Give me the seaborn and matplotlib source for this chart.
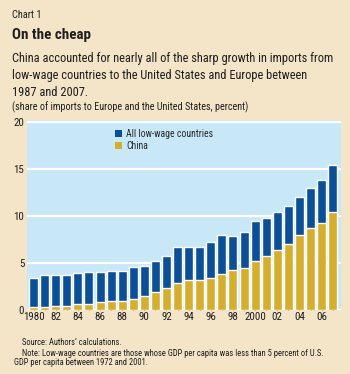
import matplotlib
matplotlib.use("Agg")
import matplotlib.pyplot as plt
import matplotlib.font_manager as fm
import seaborn as sns
import pandas as pd
from matplotlib.patches import Patch

years = list(range(1980, 2008))
all_low_wage = [3.45, 3.7, 3.7, 3.7, 3.9, 4.0, 4.0, 4.1, 4.1, 4.6, 4.7, 5.2, 5.75, 6.75,
                6.75, 6.75, 7.2, 8.0, 7.85, 8.25, 9.5, 9.75, 10.45, 11.1, 12.0, 13.0, 13.8, 15.45]
china = [0.28, 0.35, 0.4, 0.47, 0.6, 0.67, 0.85, 1.0, 1.0, 1.13, 1.5, 1.95, 2.35, 2.9,
         3.23, 3.23, 3.45, 3.87, 4.22, 4.43, 5.2, 5.75, 6.4, 7.0, 8.0, 8.75, 9.25, 10.45]
tick_labels = ["1980", "", "82", "", "84", "", "86", "", "88", "", "90", "", "92", "",
               "94", "", "96", "", "98", "", "2000", "", "02", "", "04", "", "06", ""]

df = pd.DataFrame({"year": [str(y) for y in years], "all": all_low_wage, "china": china})

BG = "#f4e4c8"
PLOT_BG = "#c8e8f8"
BLUE = "#0b4f97"
GOLD = "#d6ae2e"
TXT = "#1e1e1e"

sns.set_theme(style="white")

# pick a narrow font if one is installed
avail = {f.name for f in fm.fontManager.ttflist}
stretch = "normal"
family = None
for cand in ["Liberation Sans Narrow", "Roboto Condensed", "Open Sans Condensed",
             "Noto Sans Condensed", "DejaVu Sans Condensed", "Arial Narrow"]:
    if cand in avail:
        family = cand
        break
if family is None:
    cond = [f for f in fm.fontManager.ttflist
            if str(f.stretch) in ("condensed", "semi-condensed", "extra-condensed")]
    if cond:
        family = cond[0].name
        stretch = "condensed"
    else:
        family = "Roboto" if "Roboto" in avail else "DejaVu Sans"
plt.rcParams["font.family"] = [family, "DejaVu Sans"]
plt.rcParams["font.stretch"] = stretch

fig = plt.figure(figsize=(3.5, 3.74), dpi=100, facecolor=BG)
renderer = fig.canvas.get_renderer()


def size_for(text, target_px, weight="normal", base=10.0):
    t = fig.text(0, 0, text, fontsize=base, fontweight=weight, fontstretch=stretch)
    w = t.get_window_extent(renderer).width
    t.remove()
    return base * target_px / w


def put(x, y, text, target_px, weight="normal", size=None, **kw):
    if size is None:
        size = size_for(text, target_px, weight)
    fig.text(x / 350, 1 - y / 374, text, fontsize=size, fontweight=weight,
             fontstretch=stretch, color=TXT, va="center", ha="left", **kw)
    return size


ax = fig.add_axes([27/350, 1-310/374, 314/350, 190/374])
ax.set_facecolor(PLOT_BG)

sns.barplot(data=df, x="year", y="all", color=BLUE, width=0.81, saturation=1, ax=ax, zorder=3)
sns.barplot(data=df, x="year", y="china", color=GOLD, width=0.81, saturation=1, ax=ax, zorder=4)

tick_size = size_for("1980", 21.5)
ax.set_ylim(0, 20.2)
ax.set_xlim(-0.59, len(years) - 0.25)
ax.set_yticks([0, 5, 10, 15, 20])
ax.set_yticklabels(["0", "5", "10", "15", "20"])
ax.set_xticks(range(len(years)))
ax.set_xticklabels(tick_labels)
ax.yaxis.grid(True, color="white", linewidth=1.6, zorder=1)
ax.set_axisbelow(True)
for s in ax.spines.values():
    s.set_visible(False)
ax.tick_params(axis="y", length=0, labelsize=tick_size, pad=2, labelcolor=TXT)
ax.tick_params(axis="x", direction="in", length=3, width=0.6, color="#777777",
               labelsize=tick_size, pad=1.5, labelcolor=TXT, bottom=True)
for lab in ax.get_xticklabels() + ax.get_yticklabels():
    lab.set_fontstretch(stretch)
ax.set_xlabel("")
ax.set_ylabel("")

leg_size = size_for("All low-wage countries", 86)
handles = [Patch(facecolor=BLUE, edgecolor="none"), Patch(facecolor=GOLD, edgecolor="none")]
leg = ax.legend(handles, ["All low-wage countries", "China"], loc="upper left",
                bbox_to_anchor=(88/314, 1 - 9/190), frameon=False,
                prop={"size": leg_size, "stretch": stretch, "family": [family, "DejaVu Sans"]},
                handlelength=0.75, handleheight=0.75, handletextpad=0.4, labelspacing=0.2,
                borderaxespad=0, borderpad=0)

put(12, 14.5, "Chart 1", 29)
put(12, 35, "On the cheap", 78, weight="bold")
sub_size = size_for("China accounted for nearly all of the sharp growth in imports from", 320)
put(12, 58.5, "China accounted for nearly all of the sharp growth in imports from", 0, size=sub_size)
put(12, 76, "low-wage countries to the United States and Europe between", 0, size=sub_size)
put(12, 93, "1987 and 2007.", 0, size=sub_size)
put(12, 107.5, "(share of imports to Europe and the United States, percent)", 234)

note_size = size_for("Note: Low-wage countries are those whose GDP per capita was less than 5 percent of U.S.", 300)
put(22.5, 342.5, "Source: Authors\u2019 calculations.", 0, size=note_size)
put(22.5, 353, "Note: Low-wage countries are those whose GDP per capita was less than 5 percent of U.S.", 0, size=note_size)
put(14, 362.5, "GDP per capita between 1972 and 2001.", 0, size=note_size)

fig.savefig("out.png", dpi=100, facecolor=BG)
